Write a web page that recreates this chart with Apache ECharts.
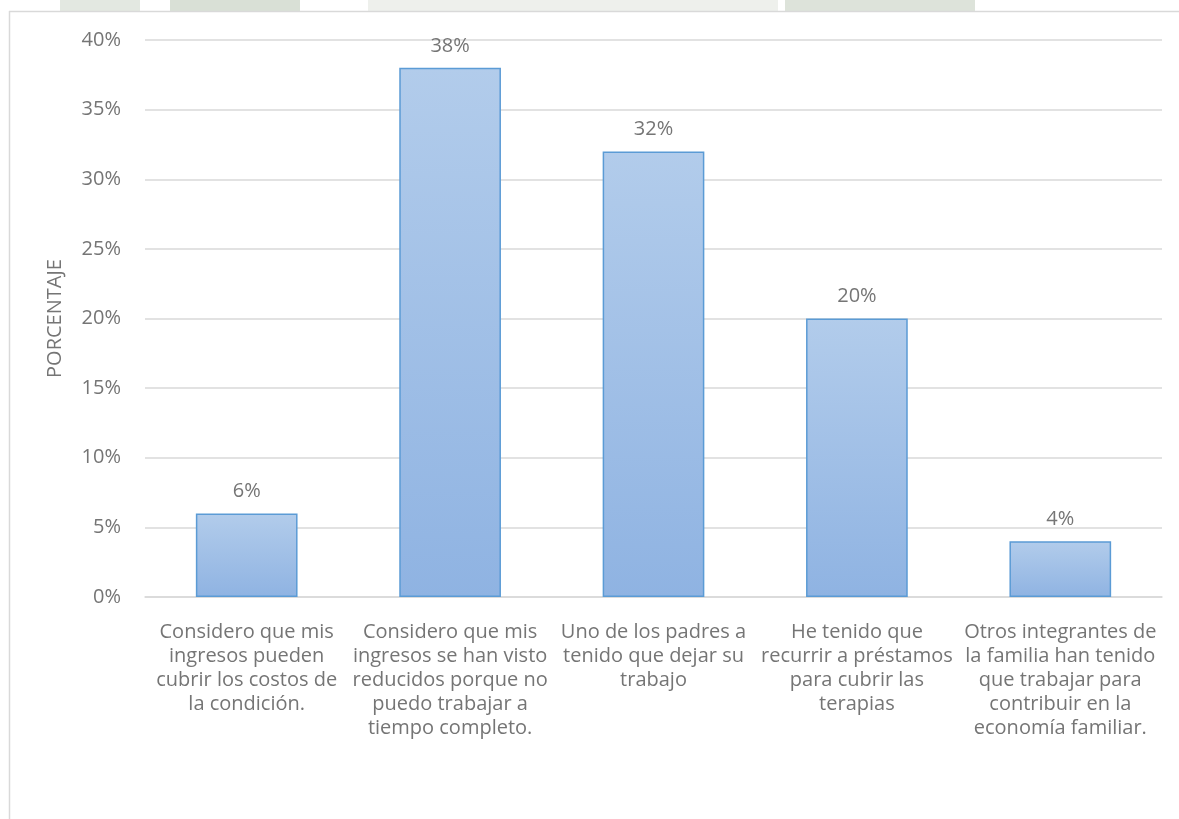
<!DOCTYPE html>
<html>
<head>
<meta charset="utf-8">
<style>
  html, body { margin: 0; padding: 0; background: #ffffff; }
  #chart { width: 1179px; height: 819px; }
</style>
<script src="https://cdn.jsdelivr.net/npm/echarts@6/dist/echarts.min.js"></script>
</head>
<body>
<div id="chart"></div>
<script>
// Survey answers: economic impact on the family
const categories = [
  'Considero que mis\ningresos pueden\ncubrir los costos de\nla condición.',
  'Considero que mis\ningresos se han visto\nreducidos porque no\npuedo trabajar a\ntiempo completo.',
  'Uno de los padres a\ntenido que dejar su\ntrabajo',
  'He tenido que\nrecurrir a préstamos\npara cubrir las\nterapias',
  'Otros integrantes de\nla familia han tenido\nque trabajar para\ncontribuir en la\neconomía familiar.'
];
const percentages = [6, 38, 32, 20, 4];
const yAxisTitle = 'PORCENTAJE';

const textGrey = '#757575';
const fontFamily = '"Open Sans", "Noto Sans", sans-serif';

const chart = echarts.init(document.getElementById('chart'), null, { renderer: 'canvas' });

chart.setOption({
  backgroundColor: '#ffffff',
  animation: false,
  graphic: [
    // faint logo band above the chart frame
    { type: 'rect', shape: { x: 60, y: 0, width: 80, height: 11 }, style: { fill: '#e3e8e1' }, silent: true },
    { type: 'rect', shape: { x: 170, y: 0, width: 130, height: 11 }, style: { fill: '#d9e0d6' }, silent: true },
    { type: 'rect', shape: { x: 368, y: 0, width: 410, height: 11 }, style: { fill: '#eef0ec' }, silent: true },
    { type: 'rect', shape: { x: 785, y: 0, width: 190, height: 11 }, style: { fill: '#dde3da' }, silent: true },
    // chart frame
    { type: 'line', shape: { x1: 9, y1: 11.5, x2: 1179, y2: 11.5 }, style: { stroke: '#d9d9d9', lineWidth: 1.5 }, silent: true },
    { type: 'line', shape: { x1: 9.5, y1: 11, x2: 9.5, y2: 819 }, style: { stroke: '#d9d9d9', lineWidth: 1.5 }, silent: true }
  ],
  grid: { left: 145, right: 17, top: 40, bottom: 222, containLabel: false },
  xAxis: {
    type: 'category',
    data: categories,
    axisLine: { show: true, lineStyle: { color: '#d9d9d9', width: 1.5 } },
    axisTick: { show: false },
    axisLabel: {
      interval: 0,
      color: textGrey,
      fontFamily: fontFamily,
      fontSize: 20,
      lineHeight: 24,
      margin: 23,
      align: 'center'
    }
  },
  yAxis: {
    type: 'value',
    min: 0,
    max: 40,
    interval: 5,
    name: yAxisTitle,
    nameLocation: 'middle',
    nameGap: 80,
    nameRotate: 90,
    nameTextStyle: { color: textGrey, fontFamily: fontFamily, fontSize: 20 },
    axisLine: { show: false },
    axisTick: { show: false },
    splitLine: { lineStyle: { color: '#d9d9d9', width: 1.5 } },
    axisLabel: {
      formatter: '{value}%',
      color: textGrey,
      fontFamily: fontFamily,
      fontSize: 20,
      margin: 24
    }
  },
  series: [{
    type: 'bar',
    data: percentages,
    barWidth: '50%',
    itemStyle: {
      color: new echarts.graphic.LinearGradient(0, 0, 0, 1, [
        { offset: 0, color: '#b2cceb' },
        { offset: 1, color: '#8fb3e2' }
      ]),
      borderColor: '#5b9bd5',
      borderWidth: 1.5
    },
    label: {
      show: true,
      position: 'top',
      distance: 12,
      formatter: '{c}%',
      color: textGrey,
      fontFamily: fontFamily,
      fontSize: 20
    }
  }]
});
</script>
</body>
</html>
